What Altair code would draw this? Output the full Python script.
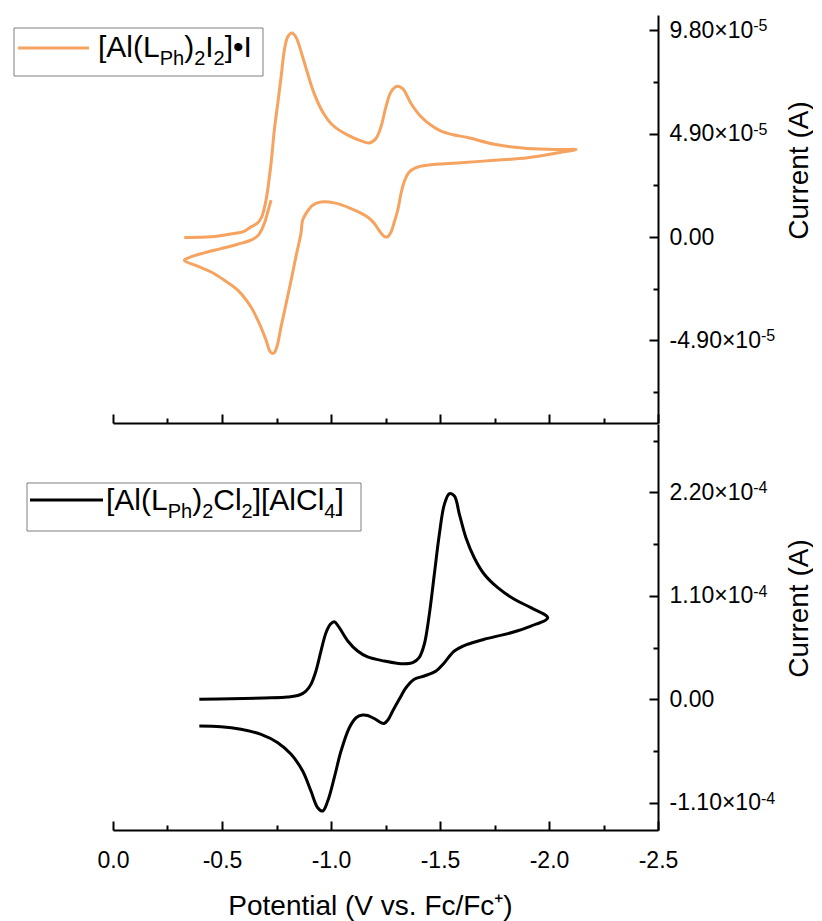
import altair as alt
import pandas as pd

FONT = "Liberation Sans, Arial, sans-serif"
ORANGE = "#F5A35F"

# ---- Data (potential in V vs Fc/Fc+) ----
# Top panel: [Al(L_Ph)2I2]•I, current in units of 1e-5 A (scan order)
TOP_E = [-0.327, -0.450, -0.555, -0.595, -0.633, -0.664, -0.682, -0.702, -0.725, -0.740,
         -0.756, -0.771, -0.786, -0.801, -0.820, -0.839, -0.870, -0.893, -0.923, -0.962,
         -1.008, -1.077, -1.138, -1.176, -1.206, -1.229, -1.252, -1.275, -1.303, -1.329,
         -1.367, -1.413, -1.459, -1.505, -1.560, -1.627, -1.749, -1.902, -2.055, -2.124,
         -2.055, -1.902, -1.749, -1.596, -1.444, -1.390, -1.358, -1.335, -1.321, -1.306,
         -1.290, -1.275, -1.257, -1.243, -1.220, -1.199, -1.168, -1.092, -1.015, -0.954,
         -0.916, -0.885, -0.870, -0.862, -0.839, -0.817, -0.794, -0.771, -0.752, -0.737,
         -0.722, -0.702, -0.671, -0.633, -0.572, -0.511, -0.450, -0.388, -0.327, -0.358,
         -0.419, -0.495, -0.572, -0.633, -0.667, -0.694, -0.712, -0.725]
TOP_I = [-0.02, 0.01, 0.17, 0.24, 0.48, 0.67, 0.95, 1.75, 3.50, 5.07,
         6.35, 7.59, 8.86, 9.49, 9.68, 9.49, 8.54, 7.75, 6.80, 5.93,
         5.30, 4.83, 4.56, 4.46, 4.67, 5.22, 6.17, 6.88, 7.15, 7.04,
         6.33, 5.70, 5.30, 5.02, 4.85, 4.72, 4.40, 4.20, 4.15, 4.15,
         4.02, 3.76, 3.64, 3.52, 3.41, 3.29, 3.07, 2.60, 2.06, 1.27,
         0.70, 0.23, 0.00, 0.04, 0.32, 0.64, 0.95, 1.35, 1.62, 1.66,
         1.51, 1.11, 0.80, 0.17, -0.94, -2.05, -3.16, -4.25, -5.20, -5.51,
         -5.45, -4.89, -4.10, -3.32, -2.52, -2.05, -1.66, -1.38, -1.10, -0.94,
         -0.75, -0.55, -0.34, -0.15, 0.09, 0.64, 1.27, 1.75]

# Bottom panel: [Al(L_Ph)2Cl2][AlCl4], current in units of 1e-4 A (scan order)
BOT_E = [-0.396, -0.541, -0.694, -0.801, -0.855, -0.885, -0.908, -0.931, -0.954, -0.977,
         -0.997, -1.015, -1.038, -1.077, -1.122, -1.168, -1.245, -1.321, -1.375, -1.404,
         -1.428, -1.451, -1.474, -1.497, -1.520, -1.543, -1.566, -1.589, -1.619, -1.657,
         -1.703, -1.765, -1.841, -1.917, -1.994,
         -1.917, -1.826, -1.703, -1.627, -1.566, -1.520, -1.482, -1.428, -1.382, -1.344,
         -1.313, -1.283, -1.261, -1.243, -1.229, -1.206, -1.191, -1.168, -1.145, -1.115,
         -1.084, -1.046, -1.015, -0.985, -0.962, -0.939, -0.908, -0.870, -0.817, -0.756,
         -0.679, -0.587, -0.495, -0.396]
BOT_I = [0.000, 0.006, 0.014, 0.024, 0.046, 0.088, 0.159, 0.301, 0.513, 0.708,
         0.797, 0.825, 0.761, 0.620, 0.513, 0.450, 0.407, 0.378, 0.389, 0.442,
         0.585, 0.903, 1.329, 1.754, 2.072, 2.185, 2.161, 1.966, 1.717, 1.505,
         1.329, 1.186, 1.063, 0.974, 0.867,
         0.779, 0.708, 0.638, 0.585, 0.513, 0.389, 0.301, 0.248, 0.213, 0.123,
         0.000, -0.124, -0.220, -0.257, -0.249, -0.215, -0.196, -0.172, -0.167, -0.196,
         -0.302, -0.550, -0.833, -1.081, -1.187, -1.152, -0.975, -0.762, -0.585, -0.461,
         -0.372, -0.319, -0.291, -0.284]

# ---- Axes ticks / labels ----
X_MAJOR = [0.0, -0.5, -1.0, -1.5, -2.0, -2.5]
X_MINOR = [-0.25, -0.75, -1.25, -1.75, -2.25]
X_LABELS = ["0.0", "-0.5", "-1.0", "-1.5", "-2.0", "-2.5"]

TOP_Y_MAJOR = [-4.9e-5, 0.0, 4.9e-5, 9.8e-5]
TOP_Y_MINOR = [-7.35e-5, -2.45e-5, 2.45e-5, 7.35e-5]
TOP_Y_LABELS = ["-4.90×10", "0.00", "4.90×10", "9.80×10"]
TOP_Y_SUPS = ["-5", "", "-5", "-5"]
TOP_Y_DOMAIN = [-8.82e-5, 10.53e-5]

BOT_Y_MAJOR = [-1.1e-4, 0.0, 1.1e-4, 2.2e-4]
BOT_Y_MINOR = [-0.55e-4, 0.55e-4, 1.65e-4, 2.75e-4]
BOT_Y_LABELS = ["-1.10×10", "0.00", "1.10×10", "2.20×10"]
BOT_Y_SUPS = ["-4", "", "-4", "-4"]
BOT_Y_DOMAIN = [-1.389e-4, 2.926e-4]

TOP_LEGEND = [("[Al(L", False), ("Ph", True), (")", False), ("2", True), ("I", False),
              ("2", True), ("]•I", False)]
BOT_LEGEND = [("[Al(L", False), ("Ph", True), (")", False), ("2", True), ("Cl", False),
              ("2", True), ("][AlCl", False), ("4", True), ("]", False)]

# Arial/Liberation Sans advance widths (per 1000 em) used for text layout
WIDTHS = {"[": 278, "A": 667, "l": 222, "(": 333, "L": 556, "P": 667, "h": 556, ")": 333,
          "2": 556, "I": 278, "]": 278, "•": 350, "C": 722, "4": 556, "-": 333, ".": 278,
          "×": 584}

MAIN_SIZE, SUB_SIZE = 30, 20
LABEL_SIZE, SUP_SIZE = 23, 16
TITLE_SIZE = 28
W, H_TOP, H_BOT = 545, 408, 406
LABEL_GAP = 11  # label start, px right of the y axis line


def near_any(vals, tol):
    return " || ".join(f"abs(datum.value - ({v!r})) < {tol}" for v in vals)


def label_expr(vals, labels, tol):
    expr = "''"
    for v, l in zip(vals, labels):
        expr = f"(abs(datum.value - ({v!r})) < {tol}) ? '{l}' : ({expr})"
    return expr


def tick_size(majors, tol):
    return {"condition": {"test": near_any(majors, tol), "value": -9}, "value": -5}


def text_width(s, size):
    return sum(WIDTHS.get(c, 556) for c in s) * size / 1000.0


common_axis = dict(tickWidth=2, tickColor="black", domainWidth=2, domainColor="black",
                   labelFont=FONT, labelFontSize=LABEL_SIZE, labelColor="black",
                   labelOverlap=False, labelFlush=False, grid=False, titleFont=FONT,
                   titleFontSize=TITLE_SIZE, titleFontWeight="normal", titleColor="black")

x_scale = alt.Scale(domain=[0, -2.5], nice=False, zero=False)

x_axis_top = alt.Axis(values=X_MAJOR + X_MINOR, labels=False, title=None,
                      tickSize=tick_size(X_MAJOR, 1e-6), **common_axis)
x_axis_bot = alt.Axis(values=X_MAJOR + X_MINOR, labelExpr=label_expr(X_MAJOR, X_LABELS, 1e-6),
                      tickSize=tick_size(X_MAJOR, 1e-6), labelPadding=28,
                      title="Potential (V vs. Fc/Fc⁺)", titleX=257, titlePadding=16,
                      **common_axis)


def y_axis(major, minor, labels, title_y):
    return alt.Axis(orient="right", values=major + minor,
                    labelExpr=label_expr(major, labels, 1e-9),
                    tickSize=tick_size(major, 1e-9), labelPadding=LABEL_GAP + 9,
                    title="Current (A)", titleAngle=270, titleY=title_y, titleX=141,
                    titleBaseline="middle", titleAlign="center",
                    **common_axis)


one = pd.DataFrame({"k": [0]})


def legend(segments, x0, base, box, line_x, line_y, color):
    layers = [
        alt.Chart(one).mark_rect(fill="white", stroke="#7f7f7f", strokeWidth=1).encode(
            x=alt.value(box[0]), x2=alt.value(box[1]), y=alt.value(box[2]), y2=alt.value(box[3])),
        alt.Chart(one).mark_rule(color=color, strokeWidth=3).encode(
            x=alt.value(line_x[0]), x2=alt.value(line_x[1]), y=alt.value(line_y)),
    ]
    x = x0
    for txt, sub in segments:
        size = SUB_SIZE if sub else MAIN_SIZE
        layers.append(
            alt.Chart(one).mark_text(align="left", baseline="alphabetic", font=FONT,
                                     fontSize=size, color="black").encode(
                x=alt.value(x), y=alt.value(base + (8 if sub else 0)), text=alt.value(txt)))
        x += text_width(txt, size)
    return layers


def superscripts(major, labels, sups):
    layers = []
    for v, lab, s in zip(major, labels, sups):
        if not s:
            continue
        df = pd.DataFrame({"I": [v]})
        layers.append(
            alt.Chart(df).mark_text(align="left", baseline="alphabetic", font=FONT,
                                    fontSize=SUP_SIZE, color="black", dy=1).encode(
                x=alt.value(W + LABEL_GAP + text_width(lab, LABEL_SIZE) + 0.5),
                y=alt.Y("I:Q"),
                text=alt.value(s)))
    return layers


top_df = pd.DataFrame({"E": TOP_E, "I": [v * 1e-5 for v in TOP_I], "idx": range(len(TOP_E))})
bot_df = pd.DataFrame({"E": BOT_E, "I": [v * 1e-4 for v in BOT_I], "idx": range(len(BOT_E))})

top_line = alt.Chart(top_df).mark_line(color=ORANGE, strokeWidth=3, interpolate="catmull-rom").encode(
    x=alt.X("E:Q", scale=x_scale, axis=x_axis_top),
    y=alt.Y("I:Q", scale=alt.Scale(domain=TOP_Y_DOMAIN, nice=False, zero=False),
            axis=y_axis(TOP_Y_MAJOR, TOP_Y_MINOR, TOP_Y_LABELS, 155)),
    order="idx:Q")

bot_line = alt.Chart(bot_df).mark_line(color="black", strokeWidth=3, interpolate="catmull-rom").encode(
    x=alt.X("E:Q", scale=x_scale, axis=x_axis_bot),
    y=alt.Y("I:Q", scale=alt.Scale(domain=BOT_Y_DOMAIN, nice=False, zero=False),
            axis=y_axis(BOT_Y_MAJOR, BOT_Y_MINOR, BOT_Y_LABELS, 184)),
    order="idx:Q")

top = alt.layer(top_line,
                *superscripts(TOP_Y_MAJOR, TOP_Y_LABELS, TOP_Y_SUPS),
                *legend(TOP_LEGEND, -15, 42, (-99, 150, 13, 61), (-95, -24), 33, ORANGE)
                ).properties(width=W, height=H_TOP)
bot = alt.layer(bot_line,
                *superscripts(BOT_Y_MAJOR, BOT_Y_LABELS, BOT_Y_SUPS),
                *legend(BOT_LEGEND, -7, 86, (-86, 248, 59, 107), (-83, -10), 76, "black")
                ).properties(width=W, height=H_BOT)

chart = alt.vconcat(top, bot, spacing=0).properties(
    padding={"left": 5, "top": 7, "right": 0, "bottom": 5}
).configure_view(stroke=None)

chart.save("out.html", embed_options={"renderer": "svg", "actions": False})
